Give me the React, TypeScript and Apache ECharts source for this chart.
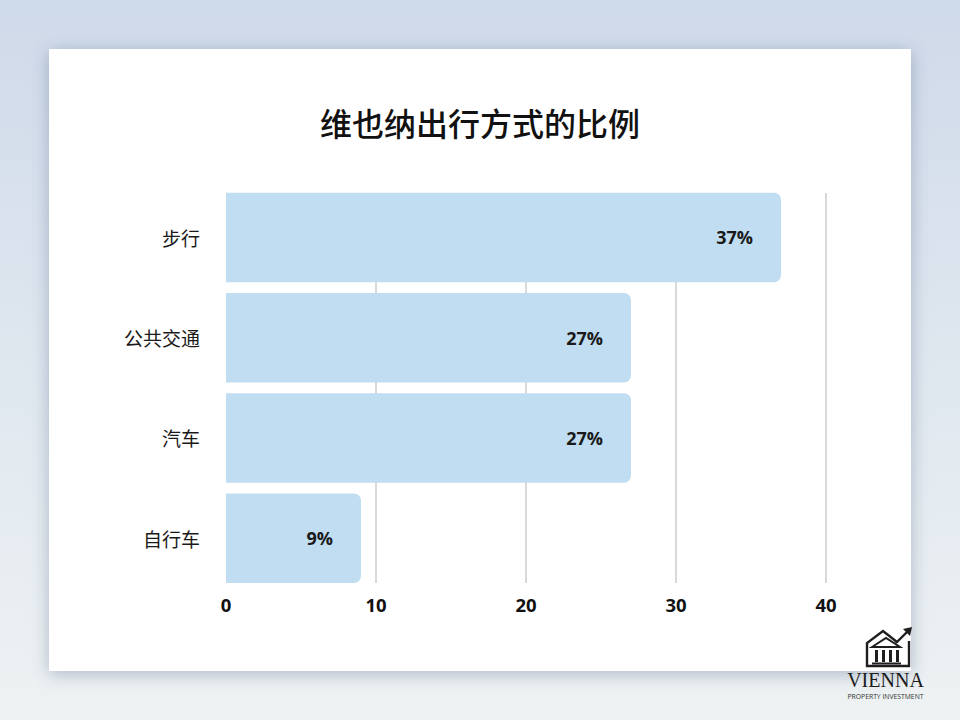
import React, { useEffect, useRef } from "react";
import * as echarts from "echarts";

const categories = ["步行", "公共交通", "汽车", "自行车"];
const shares = [37, 27, 27, 9];
const xTicks = [0, 10, 20, 30, 40];
const titleText = "维也纳出行方式的比例";
const brandName = "VIENNA";
const brandSub = "PROPERTY INVESTMENT";

export default function App() {
  const ref = useRef<HTMLDivElement>(null);

  useEffect(() => {
    if (!ref.current) return;
    const chart = echarts.init(ref.current, null, { renderer: "svg" });
    const dark = "#1e1e1e";
    chart.setOption({
      animation: false,
      backgroundColor: "transparent",
      title: {
        text: titleText,
        left: "center",
        top: 101,
        textStyle: {
          fontFamily: "Noto Sans CJK SC",
          fontSize: 32,
          fontWeight: 500,
          color: "#111",
        },
      },
      grid: [
        { left: 226, right: 134, top: 187.3, bottom: 131.6, containLabel: false },
        { left: 376, right: 134, top: 193, bottom: 137, containLabel: false },
      ],
      xAxis: [
        {
          type: "value",
          gridIndex: 0,
          min: xTicks[0],
          max: xTicks[xTicks.length - 1],
          interval: 10,
          axisLine: { show: false },
          axisTick: { show: false },
          splitLine: { show: false },
          axisLabel: {
            margin: 7,
            fontFamily: "Open Sans",
            fontWeight: "bold",
            fontSize: 18.5,
            color: "#111",
          },
        },
        {
          type: "value",
          gridIndex: 1,
          min: xTicks[1],
          max: xTicks[xTicks.length - 1],
          interval: 10,
          axisLine: { show: false },
          axisTick: { show: false },
          axisLabel: { show: false },
          splitLine: { show: true, lineStyle: { color: "#cdcdcd", width: 1.5 } },
        },
      ],
      yAxis: [
        {
          type: "category",
          gridIndex: 0,
          data: categories,
          inverse: true,
          axisLine: { show: false },
          axisTick: { show: false },
          axisLabel: {
            margin: 26,
            fontFamily: "Noto Sans CJK SC",
            fontSize: 19,
            fontWeight: "normal",
            color: "#1a1a1a",
          },
        },
        {
          type: "value",
          gridIndex: 1,
          show: false,
        },
      ],
      series: [
        {
          type: "bar",
          xAxisIndex: 0,
          yAxisIndex: 0,
          data: shares,
          barWidth: 89.5,
          itemStyle: { color: "#c1ddf2", borderRadius: [0, 7, 7, 0] },
          label: {
            show: true,
            position: "insideRight",
            distance: 28,
            formatter: "{c}%",
            fontFamily: "Open Sans",
            fontWeight: "bold",
            fontSize: 18,
            color: "#1a1a1a",
          },
        },
      ],
      graphic: [
        {
          type: "group",
          z: 100,
          children: [
            {
              type: "polyline",
              shape: {
                points: [
                  [897, 642],
                  [883, 631],
                  [867, 643],
                  [867, 666],
                  [909, 666],
                  [909, 641],
                ],
              },
              style: { stroke: dark, lineWidth: 2.4, fill: null },
            },
            {
              type: "polyline",
              shape: { points: [[896, 643], [908, 631]] },
              style: { stroke: dark, lineWidth: 2.4, fill: null },
            },
            {
              type: "polygon",
              shape: { points: [[912, 627], [903, 629], [910, 636]] },
              style: { fill: dark },
            },
            {
              type: "polygon",
              shape: { points: [[872, 647], [886, 638], [900, 647]] },
              style: { stroke: dark, lineWidth: 2, fill: null },
            },
            { type: "rect", shape: { x: 875, y: 650, width: 3, height: 12 }, style: { fill: dark } },
            { type: "rect", shape: { x: 882, y: 650, width: 3, height: 12 }, style: { fill: dark } },
            { type: "rect", shape: { x: 889, y: 650, width: 3, height: 12 }, style: { fill: dark } },
            { type: "rect", shape: { x: 896, y: 650, width: 3, height: 12 }, style: { fill: dark } },
            { type: "rect", shape: { x: 872, y: 662.5, width: 29, height: 2 }, style: { fill: dark } },
            {
              type: "text",
              x: 885.5,
              y: 680,
              style: {
                text: brandName,
                fontFamily: "Liberation Serif",
                fontSize: 20,
                fill: "#1c1c1c",
                align: "center",
                verticalAlign: "middle",
              },
            },
            {
              type: "text",
              x: 885.5,
              y: 696,
              style: {
                text: brandSub,
                fontFamily: "Open Sans",
                fontSize: 6.8,
                fill: "#333",
                align: "center",
                verticalAlign: "middle",
              },
            },
          ],
        },
      ],
    });
    return () => chart.dispose();
  }, []);

  return (
    <div
      style={{
        position: "fixed",
        left: 0,
        top: 0,
        width: 960,
        height: 720,
        background: "linear-gradient(180deg, #cfdaea 0%, #dfe7ef 50%, #eef2f3 100%)",
        overflow: "hidden",
      }}
    >
      <div
        style={{
          position: "absolute",
          left: 49,
          top: 49,
          width: 862,
          height: 622,
          background: "#ffffff",
          boxShadow: "0 3px 16px rgba(60,80,120,0.35)",
        }}
      />
      <div ref={ref} style={{ position: "absolute", left: 0, top: 0, width: 960, height: 720 }} />
    </div>
  );
}
